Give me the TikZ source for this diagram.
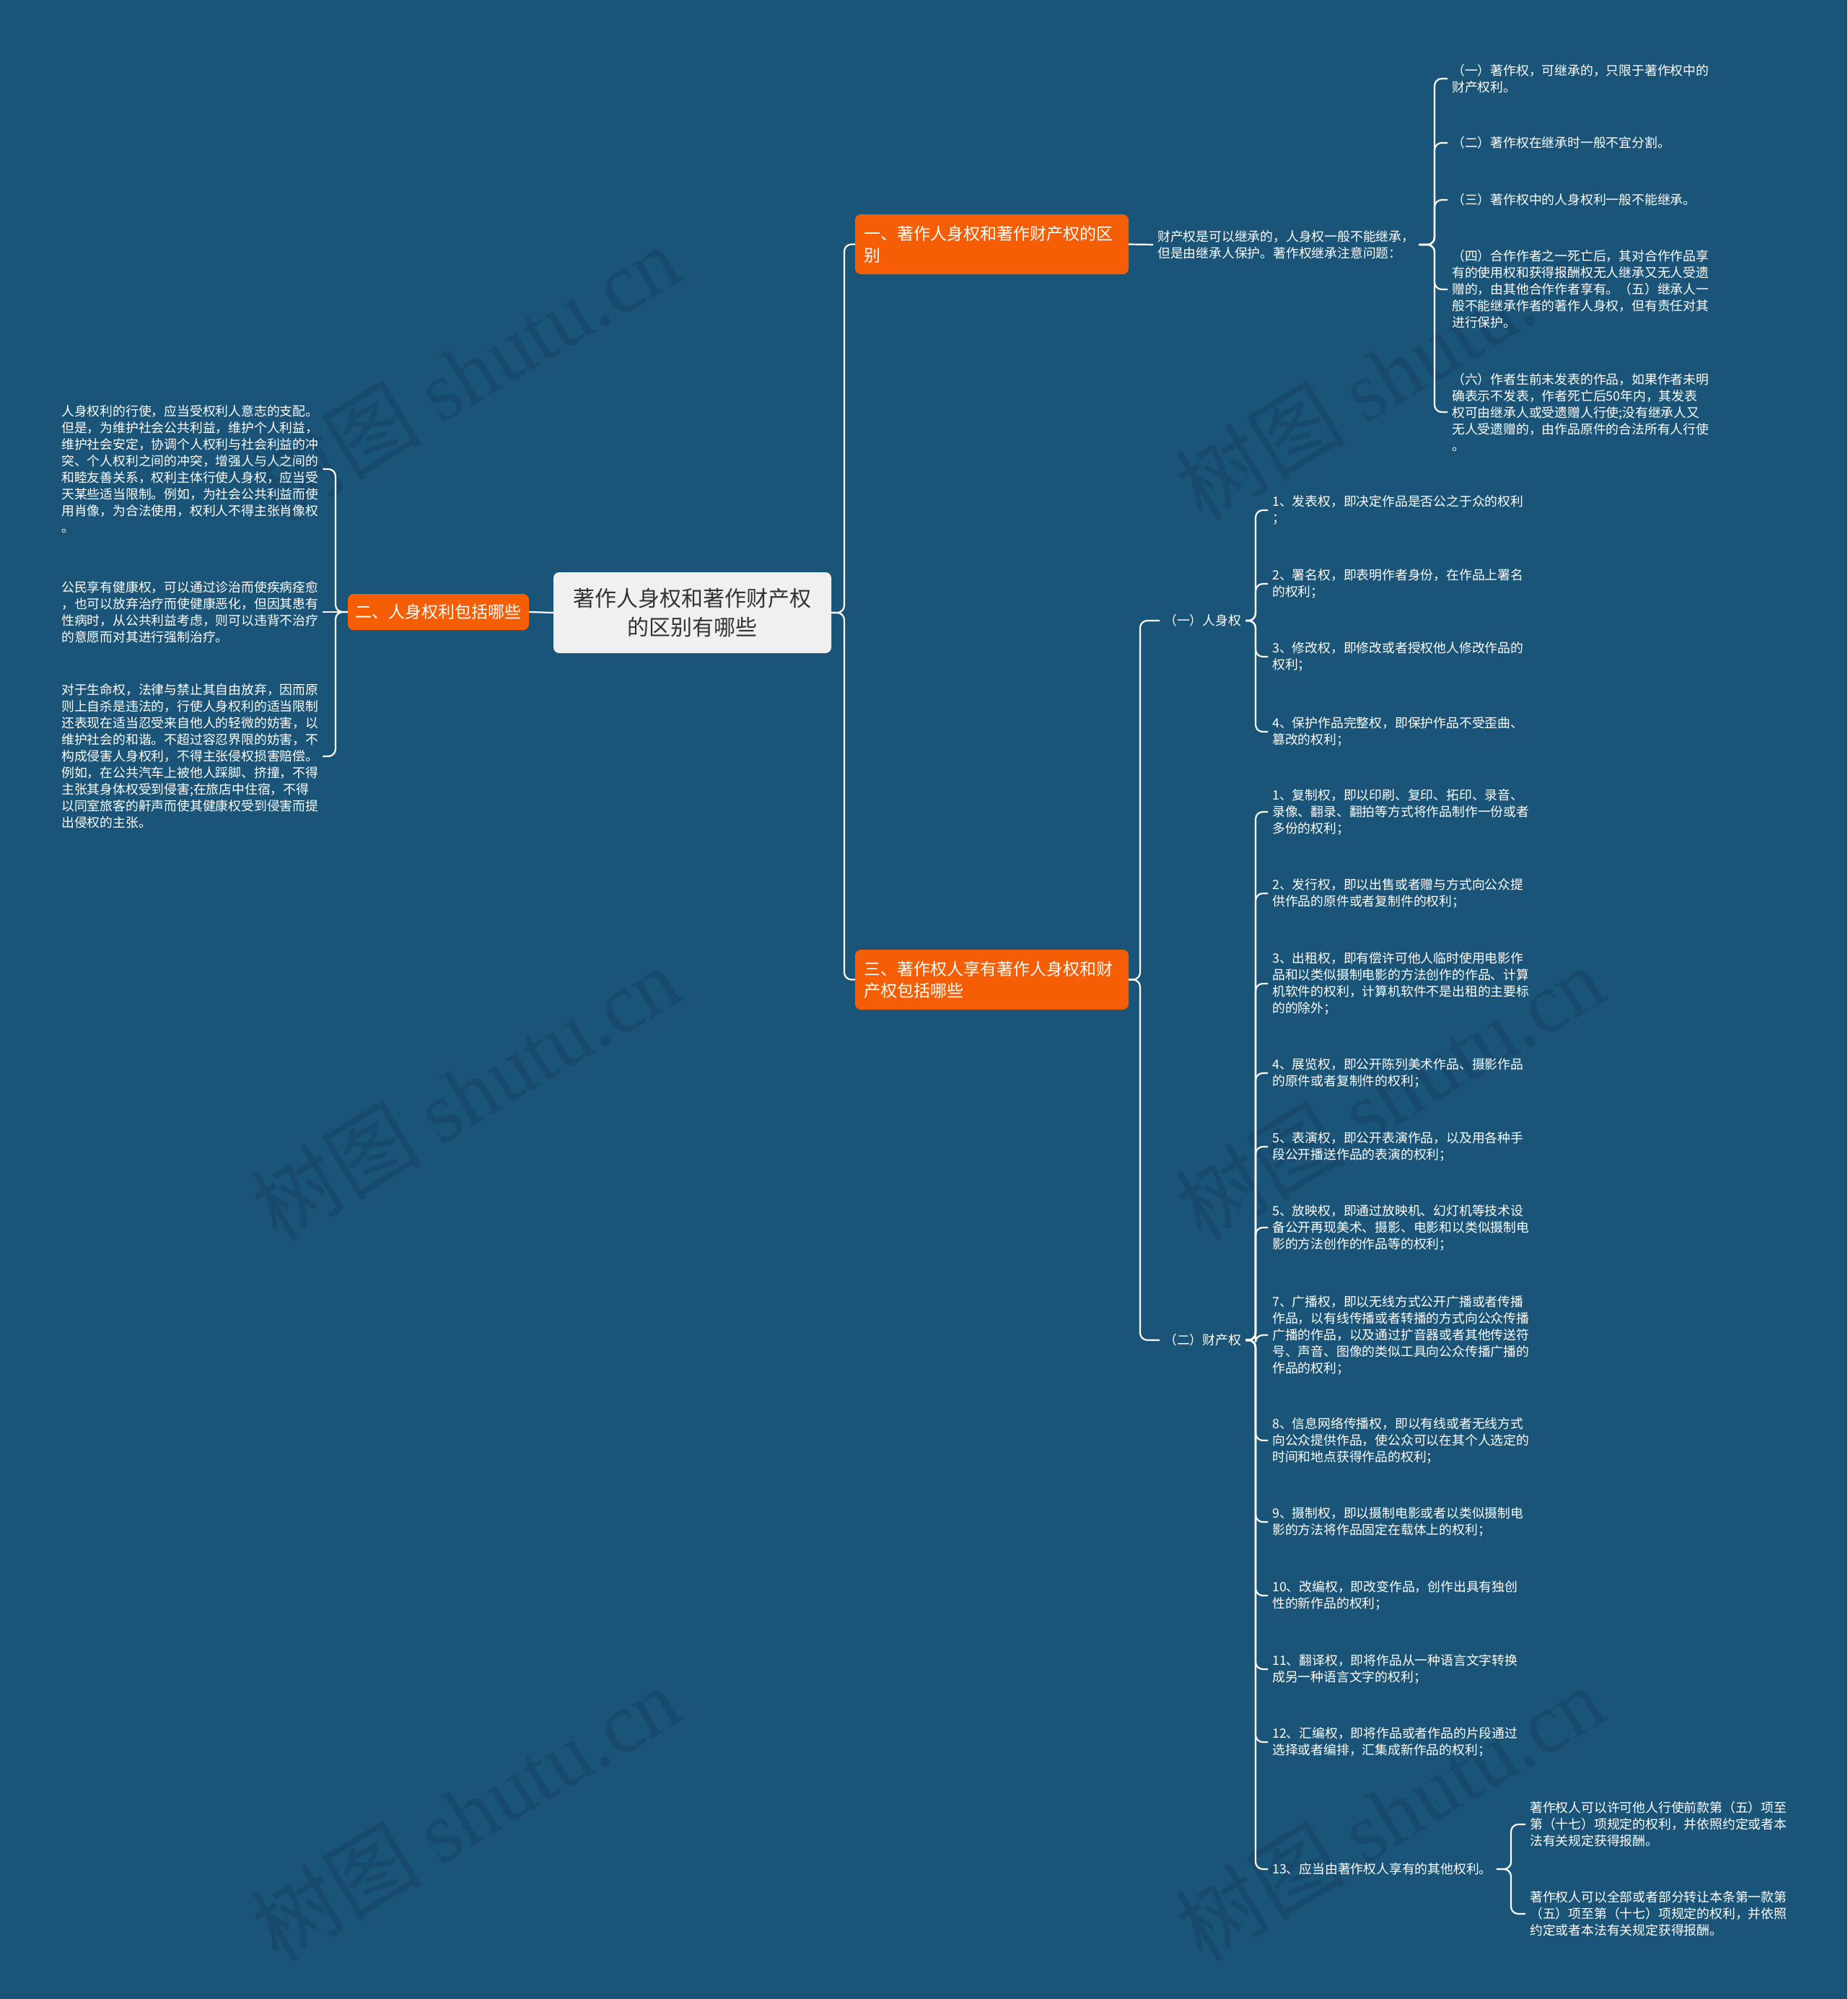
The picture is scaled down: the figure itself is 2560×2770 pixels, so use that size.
\documentclass[tikz,border=0pt]{standalone}
\usepackage{fontspec}
\setmainfont{Noto Sans CJK SC}
\newfontfamily\wmfont{Liberation Serif}
\definecolor{bg}{HTML}{1A5478}
\definecolor{wmc}{HTML}{174A6C}
\definecolor{orangebox}{HTML}{F65E05}
\definecolor{rootfill}{HTML}{F0F0F0}
\definecolor{roottext}{HTML}{333333}
\begin{document}
\begin{tikzpicture}[x=1pt,y=-1pt,
  conn/.style={draw=white,line width=2.2pt,rounded corners=10pt},
  leaf/.style={anchor=west,inner xsep=6pt,inner ysep=1pt,align=left,text=white,font=\fontsize{17.8}{23}\selectfont},
  branch/.style={fill=orangebox,rounded corners=8pt,text=white,align=left,font=\fontsize{23}{30}\selectfont,inner sep=0pt},
  widebranch/.style={branch,minimum width=379pt,minimum height=83pt,text width=355pt},
  rootbox/.style={fill=rootfill,rounded corners=8pt,text=roottext,align=center,font=\fontsize{30}{40}\selectfont,minimum width=385pt,minimum height=112pt,inner sep=0pt},
  wm/.style={text=wmc,font=\fontsize{118}{118}\selectfont,rotate=31}
]
\fill[bg] (0,0) rectangle (2560,2770);
\useasboundingbox (0,0) rectangle (2560,2770);

% watermarks
\node[wm] (wm1) at (645,516) {树图 {\wmfont shutu.cn}};
\node[wm] (wm2) at (645,1514) {树图 {\wmfont shutu.cn}};
\node[wm] (wm3) at (645,2512) {树图 {\wmfont shutu.cn}};
\node[wm] (wm4) at (1926,516) {树图 {\wmfont shutu.cn}};
\node[wm] (wm5) at (1926,1514) {树图 {\wmfont shutu.cn}};
\node[wm] (wm6) at (1926,2512) {树图 {\wmfont shutu.cn}};

% main nodes
\node[rootbox] (root) at (959.5,849) {著作人身权和著作财产权\\的区别有哪些};
\node[branch,minimum width=251pt,minimum height=50pt,align=center] (b2) at (607.5,848) {二、人身权利包括哪些};
\node[widebranch] (b1) at (1374.5,338.5) {一、著作人身权和著作财产权的区\\别};
\node[widebranch] (b3) at (1374.5,1357.5) {三、著作权人享有著作人身权和财\\产权包括哪些};

% bracket x-positions
\coordinate (xR) at (1170,0);
\coordinate (xL) at (465,0);
\coordinate (xA) at (1988,0);
\coordinate (xB) at (1580,0);
\coordinate (xP) at (1740,0);
\coordinate (xT) at (2094,0);

% left items
\node[leaf] (l1) at (79,650) {人身权利的行使，应当受权利人意志的支配。\\但是，为维护社会公共利益，维护个人利益，\\维护社会安定，协调个人权利与社会利益的冲\\突、个人权利之间的冲突，增强人与人之间的\\和睦友善关系，权利主体行使人身权，应当受\\天某些适当限制。例如，为社会公共利益而使\\用肖像，为合法使用，权利人不得主张肖像权\\。};
\node[leaf] (l2) at (79,848) {公民享有健康权，可以通过诊治而使疾病痊愈\\，也可以放弃治疗而使健康恶化，但因其患有\\性病时，从公共利益考虑，则可以违背不治疗\\的意愿而对其进行强制治疗。};
\node[leaf] (l3) at (79,1048) {对于生命权，法律与禁止其自由放弃，因而原\\则上自杀是违法的，行使人身权利的适当限制\\还表现在适当忍受来自他人的轻微的妨害，以\\维护社会的和谐。不超过容忍界限的妨害，不\\构成侵害人身权利，不得主张侵权损害赔偿。\\例如，在公共汽车上被他人踩脚、挤撞，不得\\主张其身体权受到侵害;在旅店中住宿，不得\\以同室旅客的鼾声而使其健康权受到侵害而提\\出侵权的主张。};

% branch one items
\node[leaf] (a) at (1598,339) {财产权是可以继承的，人身权一般不能继承，\\但是由继承人保护。著作权继承注意问题：};
\node[leaf] (r1) at (2006,109) {（一）著作权，可继承的，只限于著作权中的\\财产权利。};
\node[leaf] (r2) at (2006,198) {（二）著作权在继承时一般不宜分割。};
\node[leaf] (r3) at (2006,277) {（三）著作权中的人身权利一般不能继承。};
\node[leaf] (r4) at (2006,401) {（四）合作作者之一死亡后，其对合作作品享\\有的使用权和获得报酬权无人继承又无人受遗\\赠的，由其他合作作者享有。（五）继承人一\\般不能继承作者的著作人身权，但有责任对其\\进行保护。};
\node[leaf] (r5) at (2006,571) {（六）作者生前未发表的作品，如果作者未明\\确表示不发表，作者死亡后50年内，其发表\\权可由继承人或受遗赠人行使;没有继承人又\\无人受遗赠的，由作品原件的合法所有人行使\\。};

% branch three items
\node[leaf] (p1) at (1607,860) {（一）人身权};
\node[leaf] (p2) at (1607,1857) {（二）财产权};
\node[leaf] (q1) at (1757,707) {1、发表权，即决定作品是否公之于众的权利\\；};
\node[leaf] (q2) at (1757,809) {2、署名权，即表明作者身份，在作品上署名\\的权利；};
\node[leaf] (q3) at (1757,910) {3、修改权，即修改或者授权他人修改作品的\\权利；};
\node[leaf] (q4) at (1757,1014) {4、保护作品完整权，即保护作品不受歪曲、\\篡改的权利；};

\node[leaf] (s1) at (1757,1125) {1、复制权，即以印刷、复印、拓印、录音、\\录像、翻录、翻拍等方式将作品制作一份或者\\多份的权利；};
\node[leaf] (s2) at (1757,1238) {2、发行权，即以出售或者赠与方式向公众提\\供作品的原件或者复制件的权利；};
\node[leaf] (s3) at (1757,1363) {3、出租权，即有偿许可他人临时使用电影作\\品和以类似摄制电影的方法创作的作品、计算\\机软件的权利，计算机软件不是出租的主要标\\的的除外；};
\node[leaf] (s4) at (1757,1487) {4、展览权，即公开陈列美术作品、摄影作品\\的原件或者复制件的权利；};
\node[leaf] (s5) at (1757,1589) {5、表演权，即公开表演作品，以及用各种手\\段公开播送作品的表演的权利；};
\node[leaf] (s6) at (1757,1701) {5、放映权，即通过放映机、幻灯机等技术设\\备公开再现美术、摄影、电影和以类似摄制电\\影的方法创作的作品等的权利；};
\node[leaf] (s7) at (1757,1850) {7、广播权，即以无线方式公开广播或者传播\\作品，以有线传播或者转播的方式向公众传播\\广播的作品，以及通过扩音器或者其他传送符\\号、声音、图像的类似工具向公众传播广播的\\作品的权利；};
\node[leaf] (s8) at (1757,1996) {8、信息网络传播权，即以有线或者无线方式\\向公众提供作品，使公众可以在其个人选定的\\时间和地点获得作品的权利；};
\node[leaf] (s9) at (1757,2109) {9、摄制权，即以摄制电影或者以类似摄制电\\影的方法将作品固定在载体上的权利；};
\node[leaf] (s10) at (1757,2211) {10、改编权，即改变作品，创作出具有独创\\性的新作品的权利；};
\node[leaf] (s11) at (1757,2313) {11、翻译权，即将作品从一种语言文字转换\\成另一种语言文字的权利；};
\node[leaf] (s12) at (1757,2414) {12、汇编权，即将作品或者作品的片段通过\\选择或者编排，汇集成新作品的权利；};
\node[leaf] (s13) at (1757,2590) {13、应当由著作权人享有的其他权利。};
\node[leaf] (t1) at (2114,2528) {著作权人可以许可他人行使前款第（五）项至\\第（十七）项规定的权利，并依照约定或者本\\法有关规定获得报酬。};
\node[leaf] (t2) at (2114,2652) {著作权人可以全部或者部分转让本条第一款第\\（五）项至第（十七）项规定的权利，并依照\\约定或者本法有关规定获得报酬。};

% connectors: root
\draw[conn] (root.east) -- (root.east -| xR) |- (b1.west);
\draw[conn] (root.east) -- (root.east -| xR) |- (b3.west);
\draw[conn] (root.west) -- (b2.east);
% left
\draw[conn] (b2.west) -- (b2.west -| xL) |- (l1.east);
\draw[conn] (b2.west) -- (l2.east);
\draw[conn] (b2.west) -- (b2.west -| xL) |- (l3.east);
% branch one
\draw[conn] (b1.east) -- (a.west);
\foreach \n in {r1,r2,r3,r4,r5}
  \draw[conn] (a.east) -- (a.east -| xA) |- (\n.west);
% branch three
\foreach \n in {p1,p2}
  \draw[conn] (b3.east) -- (b3.east -| xB) |- (\n.west);
\foreach \n in {q1,q2,q3,q4}
  \draw[conn] (p1.east) -- (p1.east -| xP) |- (\n.west);
\foreach \n in {s1,s2,s3,s4,s5,s6,s7,s8,s9,s10,s11,s12,s13}
  \draw[conn] (p2.east) -- (p2.east -| xP) |- (\n.west);
\foreach \n in {t1,t2}
  \draw[conn] (s13.east) -- (s13.east -| xT) |- (\n.west);
\end{tikzpicture}
\end{document}
